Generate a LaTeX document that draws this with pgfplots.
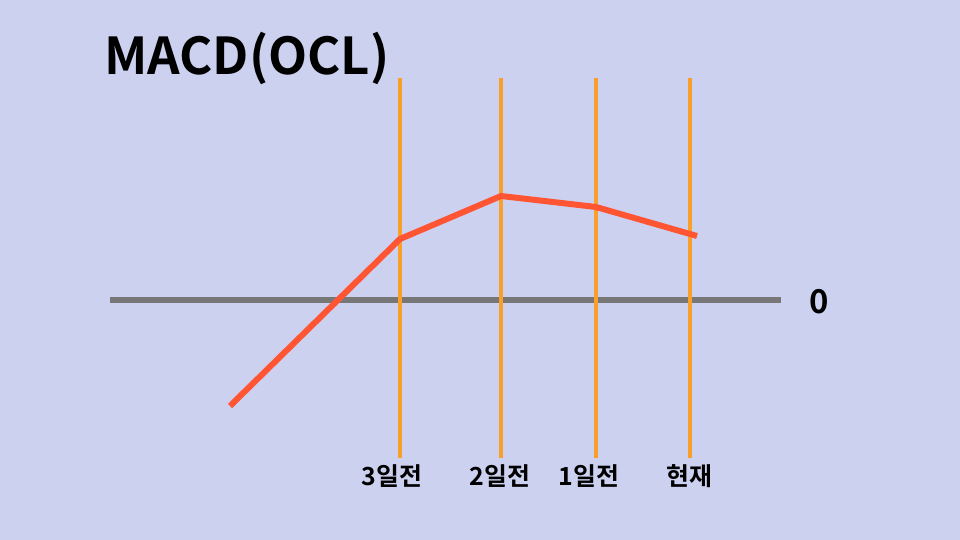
\documentclass[border=0pt]{standalone}
\usepackage{pgfplots}
\pgfplotsset{compat=1.18}
\usepackage{fontspec}
\setmainfont{Noto Sans CJK KR}[BoldFont={* Bold}]
\definecolor{bg}{HTML}{CDD1F0}
\definecolor{org}{HTML}{FB9F2B}
\definecolor{redl}{HTML}{FF5533}
\definecolor{grayl}{HTML}{777777}
\begin{document}
\begin{tikzpicture}
\begin{axis}[
  scale only axis, width=960bp, height=540bp,
  xmin=0, xmax=960, ymin=-240, ymax=300,
  hide axis, clip=false,
]
\fill[bg] (axis cs:0,-240) rectangle (axis cs:960,300);
\addplot[grayl, line width=6bp, line cap=butt] coordinates {(110,0) (781,0)};
\addplot[org, line width=4bp] coordinates {(400,222) (400,-158)};
\addplot[org, line width=4bp] coordinates {(501,222) (501,-158)};
\addplot[org, line width=4bp] coordinates {(596,222) (596,-158)};
\addplot[org, line width=4bp] coordinates {(690,222) (690,-158)};
\addplot[redl, line width=6bp, line join=miter] coordinates {(230,-106) (400,61) (501,104) (596,93) (697,64)};
\node[anchor=base west, inner sep=0pt, font=\fontsize{51}{58}\selectfont\bfseries] at (axis cs:104,225) {MACD(OCL)};
\node[font=\fontsize{33}{38}\selectfont\bfseries] at (axis cs:819,-2) {0};
\node[font=\fontsize{25}{30}\selectfont\bfseries] at (axis cs:392,-176) {3일전};
\node[font=\fontsize{25}{30}\selectfont\bfseries] at (axis cs:500,-176) {2일전};
\node[font=\fontsize{25}{30}\selectfont\bfseries] at (axis cs:589,-176) {1일전};
\node[font=\fontsize{25}{30}\selectfont\bfseries] at (axis cs:689,-176) {현재};
\end{axis}
\end{tikzpicture}
\end{document}
